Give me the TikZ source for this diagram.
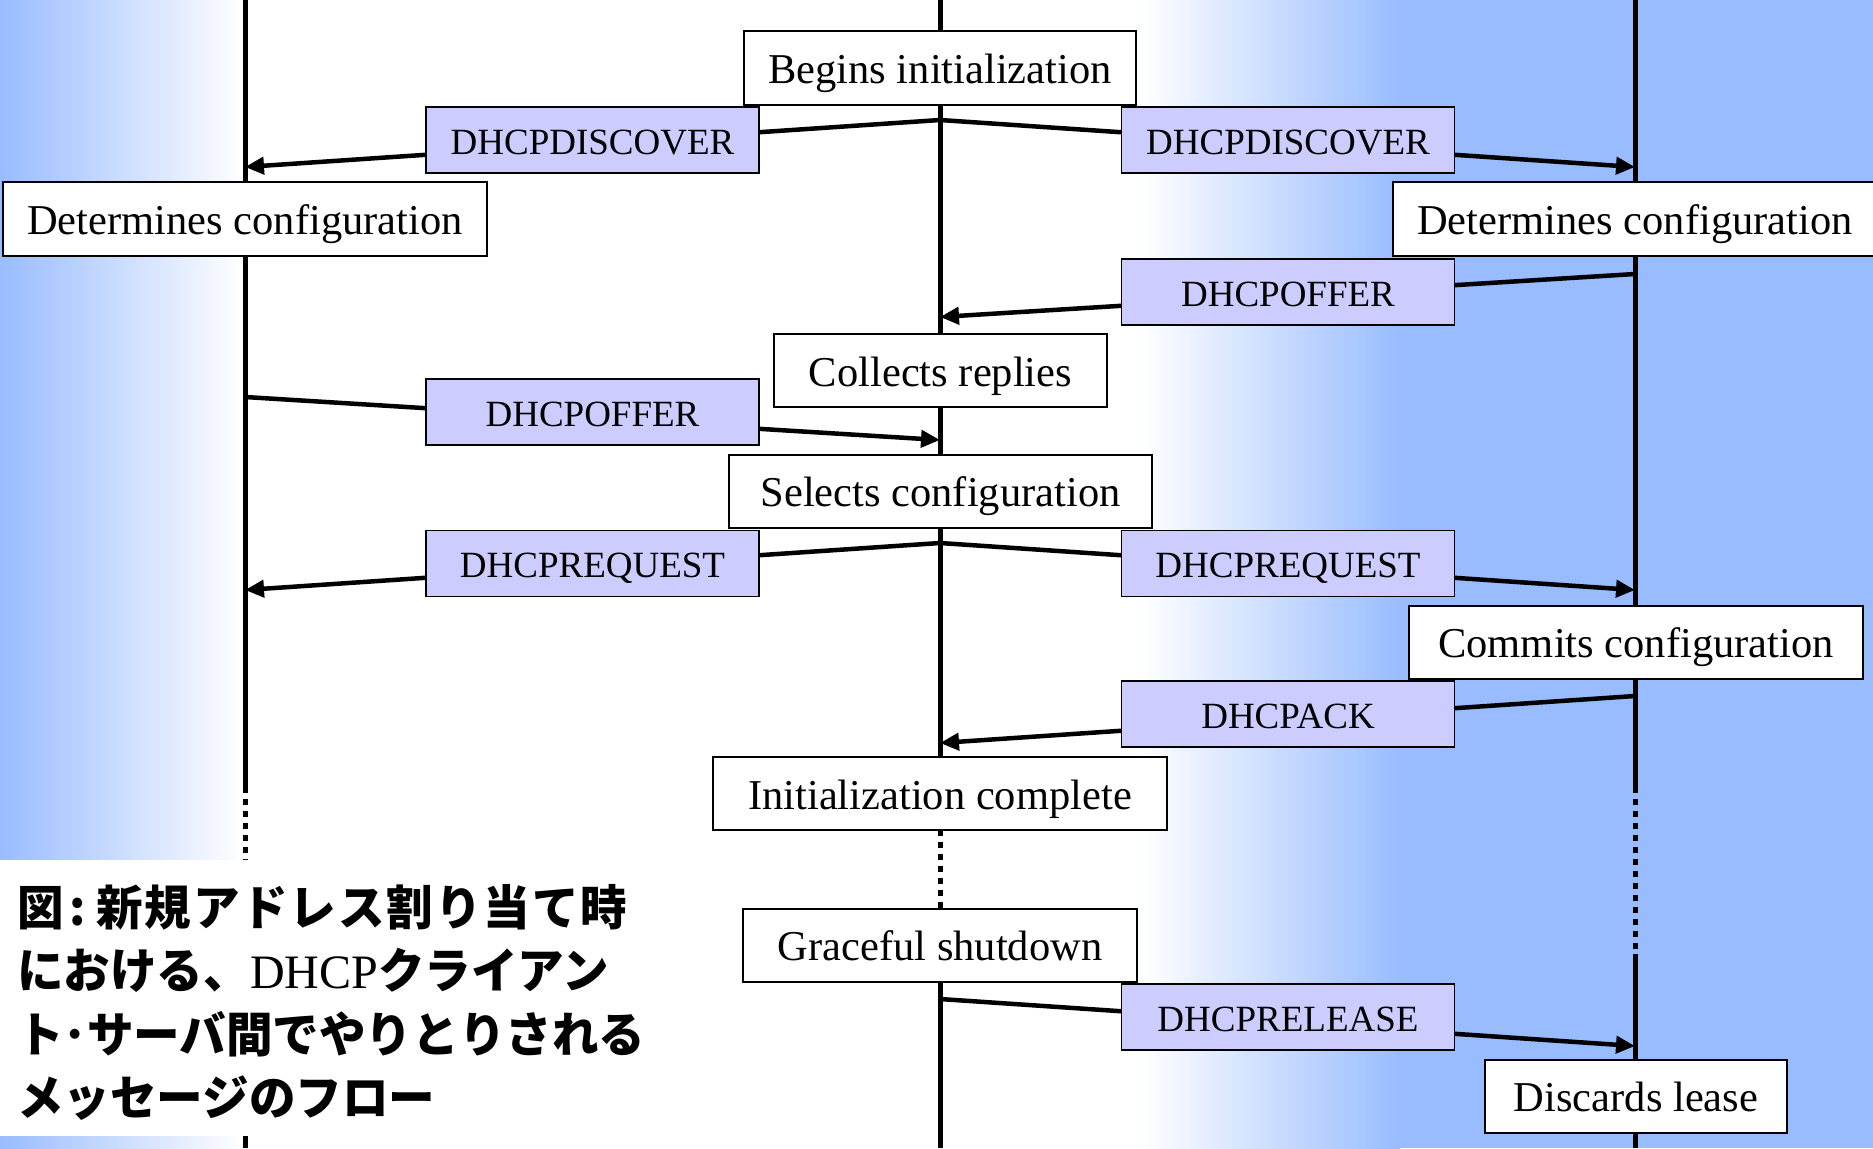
\documentclass[tikz,border=0pt]{standalone}
\usepackage{fontspec}
\setmainfont{Liberation Serif}
\newfontfamily\cjkfont[FakeStretch=0.97]{Noto Sans CJK JP}
\usetikzlibrary{arrows.meta}
\definecolor{bgblue}{RGB}{153,188,255}
\definecolor{msgfill}{RGB}{204,204,255}
\begin{document}
\begin{tikzpicture}[x=1pt,y=-1pt,
  lifeline/.style={line width=5pt},
  dotline/.style={line width=5pt, dash pattern=on 6pt off 6pt},
  msgline/.style={line width=4.5pt, -{Triangle[length=19pt,width=17pt]}},
  statebox/.style={draw, line width=2pt, fill=white, inner sep=0pt, minimum height=73pt, text height=31pt, text depth=0pt, font=\fontsize{42.5}{50}\selectfont},
  msgbox/.style={draw, line width=1.8pt, fill=msgfill, inner sep=0pt, minimum width=333pt, minimum height=66pt, text height=28pt, text depth=0pt, font=\fontsize{37}{44}\selectfont},
  captext/.style={anchor=base west, inner sep=0pt, font=\cjkfont\bfseries\fontsize{48}{60}\selectfont},
]
\useasboundingbox (0,0) rectangle (1873,1148);
% background
\fill[left color=bgblue, right color=white] (0,0) rectangle (245,1148);
\fill[white] (244,0) rectangle (1141,1148);
\fill[left color=white, right color=bgblue] (1140,0) rectangle (1400,1148);
\fill[bgblue] (1399,0) rectangle (1873,1148);

% lifeline coordinates
\coordinate (lt) at (245,0);   \coordinate (ld) at (245,787);
\coordinate (le) at (245,860); \coordinate (lb) at (245,1148);
\coordinate (ct) at (940,0);   \coordinate (cd) at (940,830);
\coordinate (ce) at (940,908); \coordinate (cb) at (940,1148);
\coordinate (rt) at (1635,0);  \coordinate (rd) at (1635,787);
\coordinate (re) at (1635,954); \coordinate (rb) at (1635,1148);

\draw[lifeline] (lt) -- (ld);
\draw[dotline] (ld) -- (le);
\draw[lifeline] (le) -- (lb);
\draw[lifeline] (ct) -- (cd);
\draw[dotline] (cd) -- (ce);
\draw[lifeline] (ce) -- (cb);
\draw[lifeline] (rt) -- (rd);
\draw[dotline] (rd) -- (re);
\draw[lifeline] (re) -- (rb);

% message end points
\coordinate (disc0) at (940,120);
\coordinate (discL) at (245,167);
\coordinate (discR) at (1635,167);
\coordinate (offR0) at (1635,274);
\coordinate (offR1) at (940,317);
\coordinate (offL0) at (245,397);
\coordinate (offL1) at (940,440);
\coordinate (req0) at (940,543);
\coordinate (reqL) at (245,590);
\coordinate (reqR) at (1635,590);
\coordinate (ack0) at (1635,696);
\coordinate (ack1) at (940,743);
\coordinate (rel0) at (940,999);
\coordinate (rel1) at (1635,1046);

\draw[msgline] (disc0) -- (discL);
\draw[msgline] (disc0) -- (discR);
\draw[msgline] (offR0) -- (offR1);
\draw[msgline] (offL0) -- (offL1);
\draw[msgline] (req0) -- (reqL);
\draw[msgline] (req0) -- (reqR);
\draw[msgline] (ack0) -- (ack1);
\draw[msgline] (rel0) -- (rel1);

% state boxes
\node[statebox, minimum width=392pt] (begin) at (940,68) {Begins initialization};
\node[statebox, minimum width=484pt, minimum height=74pt] (detL) at (245,219) {Determines configuration};
\node[statebox, minimum width=484pt, minimum height=74pt] (detR) at (1635,219) {Determines configuration};
\node[statebox, minimum width=333pt] (collect) at (940.5,370.5) {Collects replies};
\node[statebox, minimum width=423pt] (select) at (940.5,491) {Selects configuration};
\node[statebox, minimum width=454pt] (commit) at (1636,642) {Commits configuration};
\node[statebox, minimum width=454pt] (initdone) at (940,793.5) {Initialization complete};
\node[statebox, minimum width=394pt] (grace) at (940,945) {Graceful shutdown};
\node[statebox, minimum width=302pt] (discard) at (1636,1096) {Discards lease};

% message boxes
\node[msgbox] (mDiscL) at (592.5,140) {DHCPDISCOVER};
\node[msgbox] (mDiscR) at (1288,140) {DHCPDISCOVER};
\node[msgbox] (mOffR) at (1288,292) {DHCPOFFER};
\node[msgbox] (mOffL) at (592.5,412) {DHCPOFFER};
\node[msgbox] (mReqL) at (592.5,563.5) {DHCPREQUEST};
\node[msgbox] (mReqR) at (1288,563.5) {DHCPREQUEST};
\node[msgbox] (mAck) at (1288,714) {DHCPACK};
\node[msgbox] (mRel) at (1288,1017) {DHCPRELEASE};

% caption
\fill[white] (0,860) rectangle (662,1136);
\node[captext] (cap1) at (17,925) {図\kern6pt:\kern10pt{\addfontfeatures{LetterSpace=4}新規アドレス割り当て時}};
\node[captext] (cap2) at (17,988) {における、{\rmfamily\mdseries DHCP}クライアン};
\node[captext] (cap3) at (17,1052) {ト･サーバ間でやりとりされる};
\node[captext] (cap4) at (17,1115) {メッセージのフロー};
\end{tikzpicture}
\end{document}
